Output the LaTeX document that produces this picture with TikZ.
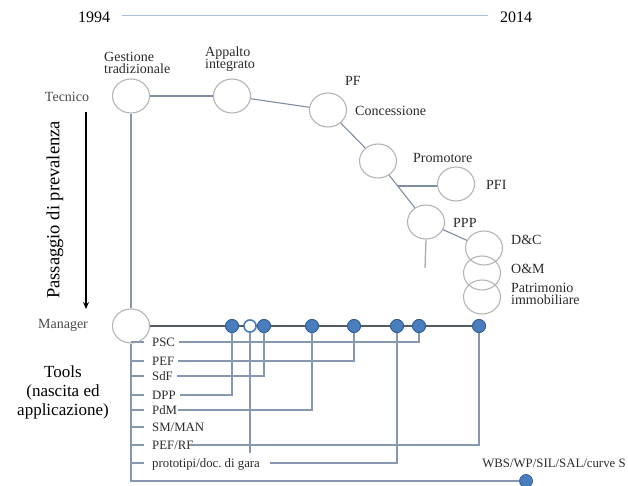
\documentclass[tikz,border=0pt]{standalone}
\usepackage{fontspec}
\setmainfont{Liberation Serif}
\usetikzlibrary{shapes.geometric,calc,arrows.meta}

\definecolor{ringgrey}{HTML}{B4B4B4}
\definecolor{treeline}{HTML}{7F8DA3}
\definecolor{toolline}{HTML}{8797B0}
\definecolor{axisline}{HTML}{555A62}
\definecolor{yearline}{HTML}{A9BFDC}
\definecolor{dotfill}{HTML}{4A7DBD}
\definecolor{dotedge}{HTML}{2C5A90}
\definecolor{labtext}{HTML}{2A2A2A}
\definecolor{roletext}{HTML}{4A4A4A}

\tikzset{
  ring/.style={ellipse, draw=ringgrey, line width=1.1pt, minimum width=37pt, minimum height=34pt, inner sep=0pt},
  tdot/.style={circle, fill=dotfill, draw=dotedge, line width=0.7pt, minimum size=13pt, inner sep=0pt},
  odot/.style={circle, fill=white, draw=dotfill, line width=1.4pt, minimum size=12pt, inner sep=0pt},
  treelink/.style={draw=treeline, line width=1.1pt},
  toollink/.style={draw=toolline, line width=1.1pt},
  treelab/.style={text=labtext, inner sep=0pt, anchor=west, align=left, font=\fontsize{14}{12.5}\selectfont},
  rolelab/.style={text=roletext, inner sep=0pt, font=\fontsize{14}{15}\selectfont},
  toollab/.style={text=labtext, inner sep=0pt, anchor=west, text height=8.5pt, text depth=0pt, font=\fontsize{12.8}{14}\selectfont},
  yearlab/.style={text=black, inner sep=0pt, font=\fontsize{16}{18}\selectfont},
}

\begin{document}
\begin{tikzpicture}[x=1pt,y=-1pt]
\useasboundingbox (0,0) rectangle (628,486);

% time span
\node[yearlab] (y1) at (94,17) {1994};
\node[yearlab] (y2) at (516,17) {2014};
\coordinate (yl) at (122,16);
\coordinate (yr) at (488,16);
\draw[yearline, line width=1pt] (yl) -- (yr);

% side captions
\node[rolelab] (tec) at (67,97) {Tecnico};
\node[rolelab] (man) at (63,325) {Manager};
\node[text=black, inner sep=0pt, rotate=90, font=\fontsize{18.5}{20}\selectfont] (pass) at (55,210) {Passaggio di prevalenza};
\coordinate (arrtop) at (86,112);
\coordinate (arrbot) at (86,309);
\draw[black, line width=1.6pt, -{Stealth[length=7pt,width=6pt]}] (arrtop) -- (arrbot);
\node[text=black, align=center, inner sep=0pt, font=\fontsize{17}{19}\selectfont] (tools) at (63,392) {Tools\\(nascita ed\\applicazione)};

% contract forms
\node[ring] (gest) at (131,96) {};
\node[ring] (app)  at (232,96) {};
\node[ring] (pf)   at (328,110) {};
\node[ring] (prom) at (378,161) {};
\node[ring] (pfi)  at (456,184) {};
\node[ring] (ppp)  at (426,222) {};
\node[ring] (dc)   at (484,248) {};
\node[ring] (om)   at (482,273) {};
\node[ring] (patr) at (482,297) {};
\node[ring] (mgr)  at (131,326) {};

\node[treelab] (lgest) at (104,63) {Gestione\\tradizionale};
\node[treelab] (lapp)  at (205,59) {Appalto\\integrato};
\node[treelab] (lpf)   at (345,81) {PF};
\node[treelab] (lcon)  at (355,111) {Concessione};
\node[treelab] (lprom) at (413,158) {Promotore};
\node[treelab] (lpfi)  at (486,185) {PFI};
\node[treelab] (lppp)  at (453,223) {PPP};
\node[treelab] (ldc)   at (511,240) {D\&C};
\node[treelab] (lom)   at (511,269) {O\&M};
\node[treelab] (lpatr) at (511,294) {Patrimonio\\immobiliare};

% evolution path
\draw[treelink] (gest.east) -- (app.west);
\draw[treelink] (app) -- (pf);
\draw[treelink] (pf) -- (prom);
\draw[treelink] (prom) -- (ppp);
\coordinate (br) at ($(prom)!0.41!(ppp)$);
\draw[treelink] (br) -- (br -| pfi.west);
\draw[treelink] (ppp) -- (dc);
\coordinate (pppend) at (425,268);
\draw[draw=ringgrey!80!treeline, line width=1.3pt] (ppp.south) -- (pppend);
\draw[draw=treeline!80!ringgrey, line width=1.3pt] (gest.south) -- (mgr.north);

% management axis and tools
\node[tdot] (d1) at (232,326) {};
\node[odot] (d2) at (250,326) {};
\node[tdot] (d3) at (264,326) {};
\node[tdot] (d4) at (312,326) {};
\node[tdot] (d5) at (354,326) {};
\node[tdot] (d6) at (397,326) {};
\node[tdot] (d7) at (419,326) {};
\node[tdot] (d8) at (479,326) {};
\node[tdot] (dwbs) at (526,481) {};
\node[text=labtext, inner sep=0pt, font=\fontsize{12.8}{14}\selectfont] (lwbs) at (554,463) {WBS/WP/SIL/SAL/curve S};

\node[toollab] (psc)   at (152,342) {PSC};
\node[toollab] (pef)   at (152,361) {PEF};
\node[toollab] (sdf)   at (152,376) {SdF};
\node[toollab] (dpp)   at (152,395) {DPP};
\node[toollab] (pdm)   at (152,410) {PdM};
\node[toollab] (smman) at (152,427) {SM/MAN};
\node[toollab] (pefrf) at (152,445) {PEF/RF};
\node[toollab] (proto) at (152,463) {prototipi/doc.\ di gara};

% trunk with ticks
\draw[toollink] (mgr.south) |- (dwbs.west);
\foreach \lab in {psc,pef,sdf,dpp,pdm,smman,pefrf,proto}{
  \draw[toollink] (\lab.west -| mgr.south) -- ([xshift=-8pt]\lab.west);
}

% tool links to the axis
\draw[toollink] ([xshift=4pt]psc.east) -| (d7.south);
\draw[toollink] ([xshift=4pt]pef.east) -| (d5.south);
\draw[toollink] ([xshift=4pt]sdf.east) -| (d3.south);
\draw[toollink] ([xshift=4pt]dpp.east) -| (d1.south);
\draw[toollink] ([xshift=1pt]pdm.east) -| (d4.south);
\draw[toollink] ([xshift=-5pt]pefrf.east) -| (d8.south);
\draw[toollink] ([xshift=10pt]proto.east) -| (d6.south);
\coordinate (d2end) at (250,453);
\draw[toollink] (d2.south) -- (d2end);

\draw[axisline, line width=1.2pt] (mgr.east) -- (d8.west);
\foreach \d in {d1,d3,d4,d5,d6,d7,d8}{
  \node[tdot] at (\d) {};
}
\node[odot] at (d2) {};
\end{tikzpicture}
\end{document}
